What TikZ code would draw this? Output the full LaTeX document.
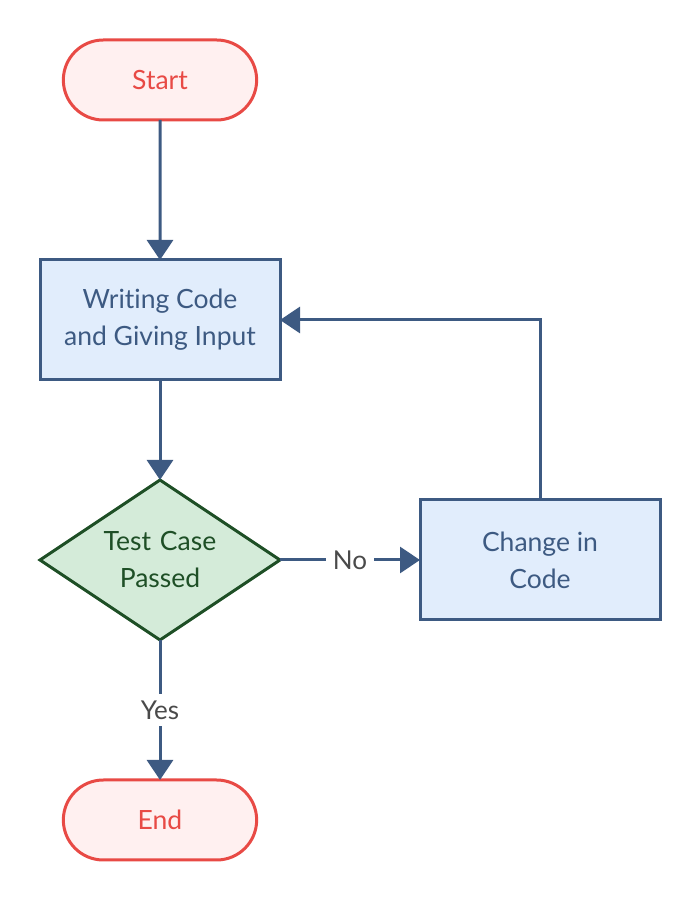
\documentclass[tikz,border=0pt]{standalone}
\usepackage{fontspec}
\setmainfont{Lato}[Ligatures=NoCommon]
\usetikzlibrary{shapes.misc, shapes.geometric, positioning}
\usetikzlibrary{arrows.meta}

\definecolor{flowblue}{HTML}{3D5A82}
\definecolor{boxfill}{HTML}{E1EDFC}
\definecolor{termred}{HTML}{E84A45}
\definecolor{termfill}{HTML}{FFF0F0}
\definecolor{decgreen}{HTML}{1E4F26}
\definecolor{decfill}{HTML}{D4EBD9}
\definecolor{lblgrey}{HTML}{4A4A4A}

\tikzset{
	base/.style = {line width=3pt, outer sep=0pt, align=center, font=\fontsize{26.5}{37}\selectfont},
	term/.style = {base, rounded rectangle, draw=termred, fill=termfill, text=termred,
		minimum width=200pt, minimum height=80pt},
	proc/.style = {base, rectangle, draw=flowblue, fill=boxfill, text=flowblue,
		minimum width=240pt, minimum height=120pt},
	decide/.style = {base, diamond, aspect=1.5, inner sep=0pt, draw=decgreen, fill=decfill,
		text=decgreen, minimum width=240pt, minimum height=160pt},
	flow/.style = {line width=3pt, draw=flowblue, -{Triangle[width=26pt,length=20pt]}},
	lbl/.style = {fill=white, text=lblgrey, inner sep=7pt, font=\fontsize{26}{30}\selectfont},
}

\begin{document}
\begin{tikzpicture}[x=1pt, y=1pt, node distance=140pt]
	\useasboundingbox (0,0) rectangle (700,900);

	\node[term] (start) at (160,820) {Start};
	\node[proc, below = of start] (writing) {Writing Code\\and Giving Input};
	\node[decide, below = 100pt of writing] (test) {Test\,\,Case\\Passed};
	\node[proc, right = of test] (change) {Change in\\Code};
	\node[term, below = of test] (stop) {End};

	\draw[flow] (start) -- (writing);
	\draw[flow] (writing) -- (test);
	\draw[flow] (test.east) -- node[lbl] {No} (change.west);
	\draw[flow] (test.south) -- node[lbl] {Yes} (stop.north);
	\draw[flow] (change.north) |- (writing.east);

\end{tikzpicture}
\end{document}
